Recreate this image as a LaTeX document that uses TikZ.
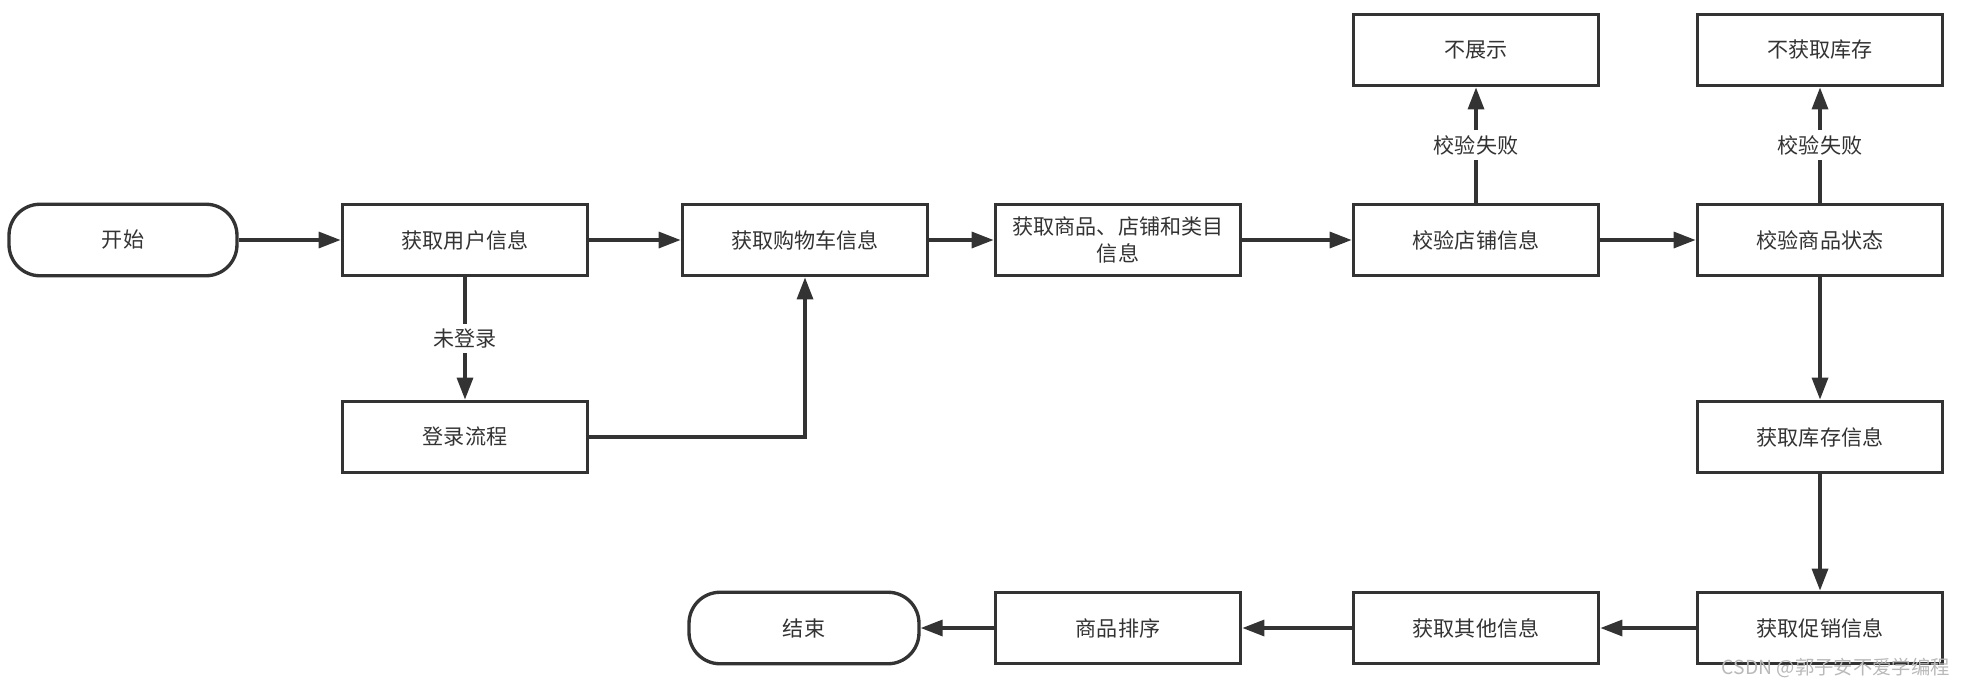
\documentclass[tikz,border=0pt]{standalone}
\usepackage{fontspec}
\setmainfont{Noto Sans CJK SC}
\usetikzlibrary{arrows.meta, positioning, calc}
\definecolor{linegray}{HTML}{333333}
\tikzset{
  box/.style={draw=linegray, line width=1.9pt, minimum width=4.91cm, minimum height=1.43cm, align=center, text=linegray, font=\fontsize{12}{15}\selectfont},
  term/.style={box, rounded corners=0.62cm, minimum width=4.56cm},
  flow/.style={draw=linegray, line width=1.9pt, -{Triangle[length=0.44cm, width=0.32cm]}},
  lbl/.style={fill=white, text=linegray, inner sep=3pt, font=\fontsize{12}{14}\selectfont}
}

\begin{document}
\begin{tikzpicture}[x=0.02cm, y=-0.02cm]
\useasboundingbox (0,0) rectangle (1965,687);
\node (start) at (123, 240) [term] {开始};
\node (user) at (465, 240) [box] {获取用户信息};
\node (login) at (465, 437) [box] {登录流程};
\node (cart) at (805, 240) [box] {获取购物车信息};
\node (goods) at (1118, 240) [box] {获取商品、店铺和类目\\信息};
\node (shop) at (1476, 240) [box] {校验店铺信息};
\node (hide) at (1476, 50) [box] {不展示};
\node (state) at (1820, 240) [box] {校验商品状态};
\node (nostock) at (1820, 50) [box] {不获取库存};
\node (stock) at (1820, 437) [box] {获取库存信息};
\node (promo) at (1820, 628) [box] {获取促销信息};
\node (other) at (1476, 628) [box] {获取其他信息};
\node (sort) at (1118, 628) [box] {商品排序};
\node (end) at (804, 628) [term, minimum width=4.6cm] {结束};

\draw[flow] (start) -- (user);
\draw[flow] (user) -- (cart);
\draw[flow] (user) -- node[lbl] {未登录} (login);
\draw[flow] (login) -| (cart);
\draw[flow] (cart) -- (goods);
\draw[flow] (goods) -- (shop);
\draw[flow] (shop) -- node[lbl] {校验失败} (hide);
\draw[flow] (shop) -- (state);
\draw[flow] (state) -- node[lbl] {校验失败} (nostock);
\draw[flow] (state) -- (stock);
\draw[flow] (stock) -- (promo);
\draw[flow] (promo) -- (other);
\draw[flow] (other) -- (sort);
\draw[flow] (sort) -- (end);

% watermark
\node (mark) at (1950, 668) [anchor=east, inner sep=0pt, text=gray!55, font=\fontsize{11}{13}\selectfont] {CSDN @郭子安不爱学编程};
\end{tikzpicture}
\end{document}
